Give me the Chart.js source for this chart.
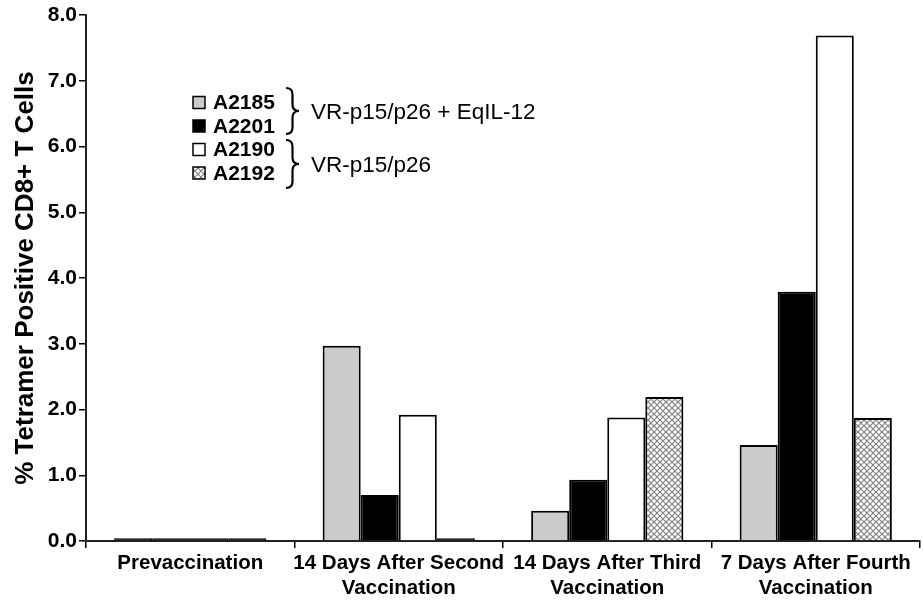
<!DOCTYPE html>
<html>
<head>
<meta charset="utf-8">
<script src="https://cdn.jsdelivr.net/npm/chart.js@4/dist/chart.umd.min.js"></script>
<style>
  html, body { margin: 0; padding: 0; background: #fff; }
  #wrap { width: 923px; height: 606px; }
</style>
</head>
<body>
<div id="wrap"><canvas id="c" width="923" height="606"></canvas></div>
<script>
// ---- data ----
const categories = [
  ["Prevaccination"],
  ["14 Days After Second", "Vaccination"],
  ["14 Days After Third", "Vaccination"],
  ["7 Days After Fourth", "Vaccination"]
];
const seriesNames = ["A2185", "A2201", "A2190", "A2192"];
const A2185 = [0.04, 2.97, 0.46, 1.46];
const A2201 = [0.04, 0.70, 0.93, 3.79];
const A2190 = [0.04, 1.92, 1.88, 7.69];
const A2192 = [0.04, 0.04, 2.19, 1.87];
const groupNames = ["VR-p15/p26 + EqIL-12", "VR-p15/p26"];
const yTicks = [0, 1, 2, 3, 4, 5, 6, 7, 8];
const yTitle = "% Tetramer Positive CD8+ T Cells";

const FONT = '"Liberation Sans", Arial, Helvetica, sans-serif';

// crosshatch pattern
function makeHatch() {
  const p = document.createElement('canvas');
  p.width = 6; p.height = 6;
  const g = p.getContext('2d');
  g.fillStyle = '#ffffff';
  g.fillRect(0, 0, 6, 6);
  g.strokeStyle = '#808080';
  g.lineWidth = 1.2;
  g.beginPath();
  g.moveTo(0, 0); g.lineTo(6, 6);
  g.moveTo(6, 0); g.lineTo(0, 6);
  g.moveTo(-3, 3); g.lineTo(3, 9);
  g.moveTo(3, -3); g.lineTo(9, 3);
  g.moveTo(3, -3); g.lineTo(-3, 3);
  g.moveTo(9, 3); g.lineTo(3, 9);
  g.stroke();
  return g.createPattern(p, 'repeat');
}
const ctx0 = document.getElementById('c').getContext('2d');
const hatch = makeHatch();
const fills = ['#cbcbcb', '#000000', '#ffffff', hatch];
const seriesData = [A2185, A2201, A2190, A2192];

const datasets = seriesNames.map((n, i) => ({
  label: n,
  data: seriesData[i],
  legendFill: fills[i],
  backgroundColor: (c) => (c.raw !== undefined && c.raw < 0.1) ? '#000000' : fills[i],
  borderColor: '#000000',
  borderWidth: 2,
  borderSkipped: 'bottom',
  categoryPercentage: 0.73,
  barPercentage: 1.0
}));

function brace(ctx, x, y1, y2, w) {
  const ym = (y1 + y2) / 2;
  const h = w / 2;
  ctx.beginPath();
  ctx.moveTo(x, y1);
  ctx.quadraticCurveTo(x + h, y1, x + h, y1 + h);
  ctx.lineTo(x + h, ym - h);
  ctx.quadraticCurveTo(x + h, ym, x + w, ym);
  ctx.quadraticCurveTo(x + h, ym, x + h, ym + h);
  ctx.lineTo(x + h, y2 - h);
  ctx.quadraticCurveTo(x + h, y2, x, y2);
  ctx.stroke();
}

const legendPlugin = {
  id: 'customLegend',
  afterDraw(chart) {
    const ctx = chart.ctx;
    ctx.save();
    const rowsY = [102.5, 126, 149.5, 173];
    chart.data.datasets.forEach((ds, i) => {
      const y = rowsY[i];
      ctx.fillStyle = ds.legendFill;
      ctx.fillRect(193, y - 6, 12, 12);
      ctx.strokeStyle = '#000';
      ctx.lineWidth = 1.5;
      ctx.strokeRect(193, y - 6, 12, 12);
      ctx.fillStyle = '#000';
      ctx.font = 'bold 21px ' + FONT;
      ctx.textBaseline = 'middle';
      ctx.textAlign = 'left';
      ctx.fillText(ds.label, 213, y + 1);
    });
    ctx.strokeStyle = '#000';
    ctx.lineWidth = 2.2;
    brace(ctx, 286, 88, 134, 13);
    brace(ctx, 286, 140, 188, 13);
    ctx.font = '22.5px ' + FONT;
    ctx.fillStyle = '#000';
    ctx.textBaseline = 'middle';
    ctx.fillText(groupNames[0], 311, 113);
    ctx.fillText(groupNames[1], 311, 166);
    ctx.restore();
  }
};

new Chart(ctx0, {
  type: 'bar',
  data: { labels: categories, datasets },
  options: {
    responsive: false,
    animation: false,
    layout: { padding: { top: 15, right: 3, left: 0, bottom: 0 } },
    plugins: { legend: { display: false }, tooltip: { enabled: false } },
    scales: {
      x: {
        grid: { display: true, drawOnChartArea: false, offset: true, tickLength: 7, color: '#000', lineWidth: 1.5 },
        border: { display: true, color: '#222', width: 2 },
        ticks: {
          color: '#000', font: { family: FONT, size: 20.5, weight: 'bold' },
          padding: 3, maxRotation: 0, autoSkip: false
        },
        afterFit(scale) { scale.height = 65; }
      },
      y: {
        min: 0, max: 8,
        afterBuildTicks(scale) { scale.ticks = yTicks.map(v => ({ value: v })); },
        grid: { display: true, drawOnChartArea: false, tickLength: 7, color: '#000', lineWidth: 1.5 },
        border: { display: true, color: '#222', width: 2 },
        ticks: {
          color: '#000', font: { family: FONT, size: 21, weight: 'bold' },
          padding: 2,
          callback: v => Number(v).toFixed(1)
        },
        title: {
          display: true, text: yTitle, color: '#000',
          font: { family: FONT, size: 26, weight: 'bold' },
          padding: { top: 10, bottom: 0 }
        },
        afterFit(scale) { scale.width = 86; }
      }
    }
  },
  plugins: [legendPlugin]
});
</script>
</body>
</html>
